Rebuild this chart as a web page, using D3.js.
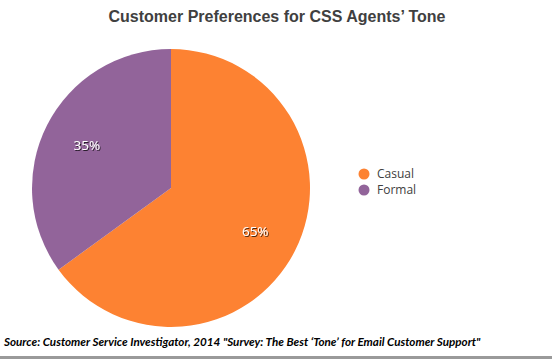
<!DOCTYPE html>
<html>
<head>
<meta charset="utf-8">
<script src="https://cdn.jsdelivr.net/npm/d3@7.9.0/dist/d3.min.js"></script>
<style>
  html, body { margin: 0; padding: 0; background: #fff; }
  svg { display: block; }
</style>
</head>
<body>
<svg id="chart" width="552" height="359"></svg>
<script>
// data
const categories = ['Casual', 'Formal'];
const shares = [65, 35];
const sliceColors = ['#FD8232', '#92649A'];

const width = 552, height = 359;
const cx = 171, cy = 188, radius = 139;

const svg = d3.select('#chart');

// soft dark shadow under the white percentage labels
const defs = svg.append('defs');
defs.append('filter')
    .attr('id', 'shadow')
    .attr('x', '-20%').attr('y', '-20%').attr('width', '140%').attr('height', '140%')
  .append('feDropShadow')
    .attr('dx', 1).attr('dy', 1).attr('stdDeviation', 0.6)
    .attr('flood-color', '#000').attr('flood-opacity', 0.7);

svg.append('text')
    .attr('x', 277).attr('y', 22)
    .attr('text-anchor', 'middle')
    .attr('font-family', '"Liberation Sans", Arial, sans-serif')
    .attr('font-weight', 'bold')
    .attr('font-size', 16)
    .attr('fill', '#404040')
    .text('Customer Preferences for CSS Agents\u2019 Tone');

const data = categories.map((c, i) => ({ label: c, value: shares[i] }));
const color = d3.scaleOrdinal().domain(categories).range(sliceColors);

const pie = d3.pie().sort(null).value(d => d.value);
const arc = d3.arc().innerRadius(0).outerRadius(radius);
const labelArc = d3.arc().innerRadius(radius * 0.68).outerRadius(radius * 0.68);

const g = svg.append('g').attr('transform', `translate(${cx},${cy})`);
const slices = pie(data);

g.selectAll('path')
  .data(slices)
  .join('path')
    .attr('d', arc)
    .attr('fill', d => color(d.data.label));

g.selectAll('text')
  .data(slices)
  .join('text')
    .attr('transform', d => `translate(${labelArc.centroid(d)})`)
    .attr('text-anchor', 'middle')
    .attr('dy', '0.35em')
    .attr('font-family', '"Open Sans", sans-serif')
    .attr('font-size', 13.5)
    .attr('fill', '#fff')
    .attr('filter', 'url(#shadow)')
    .text(d => d.data.value + '%');

// legend
const legend = svg.append('g').attr('transform', 'translate(364,174)');
const items = legend.selectAll('g')
  .data(categories)
  .join('g')
    .attr('transform', (d, i) => `translate(0,${i * 16})`);
items.append('circle')
    .attr('r', 5.5)
    .attr('fill', d => color(d));
items.append('text')
    .attr('x', 13).attr('dy', '0.35em')
    .attr('font-family', '"Open Sans", sans-serif')
    .attr('font-size', 12)
    .attr('fill', '#404040')
    .text(d => d);

// source line
svg.append('text')
    .attr('x', 4).attr('y', 346)
    .attr('font-family', 'Lato, sans-serif')
    .attr('font-weight', 'bold')
    .attr('font-style', 'italic')
    .attr('font-size', 11.65)
    .attr('fill', '#000')
    .text('Source: Customer Service Investigator, 2014 "Survey: The Best \u2018Tone\u2019 for Email Customer Support"');

svg.append('rect')
    .attr('x', 0).attr('y', 356)
    .attr('width', width).attr('height', 3)
    .attr('fill', '#9a9a9a');
</script>
</body>
</html>
